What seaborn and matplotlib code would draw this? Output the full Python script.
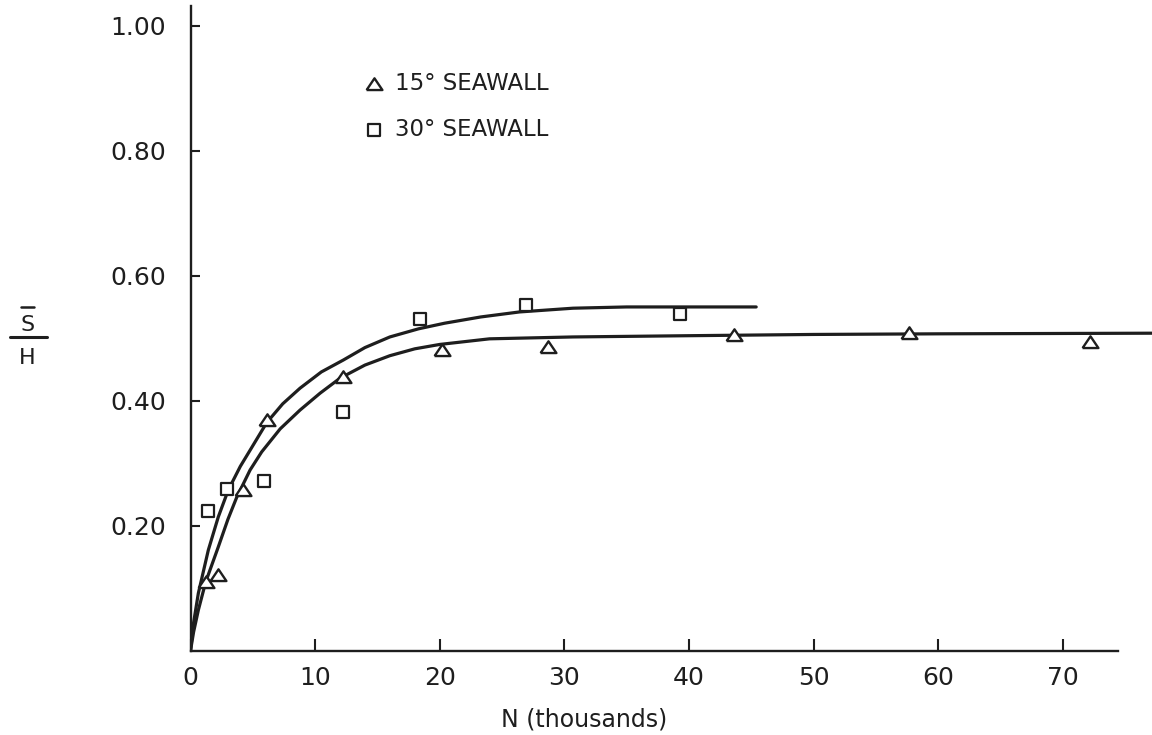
import numpy as np
import pandas as pd
import matplotlib
matplotlib.use("Agg")
import matplotlib.pyplot as plt
import seaborn as sns
from matplotlib.lines import Line2D
from matplotlib.markers import MarkerStyle

# ---------------- data ----------------
n_15 = [1.22, 2.23, 4.24, 6.12, 12.26, 20.2, 28.7, 43.6, 57.7, 72.2]
sh_15 = [0.110, 0.121, 0.257, 0.369, 0.438, 0.481, 0.486, 0.505, 0.508, 0.494]

n_30 = [1.43, 2.90, 5.92, 12.2, 18.4, 26.9, 39.3]
sh_30 = [0.224, 0.258, 0.272, 0.382, 0.530, 0.553, 0.539]

curve_15_n = [0, 0.25, 0.63, 1.22, 2.23, 3.0, 3.7, 4.78, 5.71, 7.2, 8.79, 10.4,
              12.0, 14.0, 16.0, 18.0, 20.0, 24.0, 30.7, 40.0, 50.0, 60.0, 77.2]
curve_15_sh = [0, 0.03, 0.065, 0.110, 0.166, 0.21, 0.245, 0.289, 0.318, 0.355, 0.385, 0.412,
               0.436, 0.457, 0.472, 0.483, 0.490, 0.499, 0.502, 0.504, 0.506, 0.507, 0.508]

curve_30_n = [0, 0.25, 0.63, 1.43, 2.23, 3.03, 4.0, 4.85, 6.12, 7.4, 8.79, 10.5,
              12.26, 14.0, 16.0, 18.3, 20.4, 23.3, 26.4, 30.7, 35.0, 40.0, 45.4]
curve_30_sh = [0, 0.045, 0.092, 0.161, 0.214, 0.257, 0.295, 0.323, 0.365, 0.395, 0.420, 0.446,
               0.465, 0.485, 0.502, 0.515, 0.524, 0.534, 0.542, 0.548, 0.550, 0.550, 0.550]

x_ticks = [0, 10, 20, 30, 40, 50, 60, 70]
x_tick_labels = ["0", "10", "20", "30", "40", "50", "60", "70"]
y_ticks = [0.2, 0.4, 0.6, 0.8, 1.0]
y_tick_labels = ["0.20", "0.40", "0.60", "0.80", "1.00"]
legend_labels = ["15° SEAWALL", "30° SEAWALL"]
x_label = "N (thousands)"
y_label_top = "S"
y_label_bottom = "H"

# ---------------- style ----------------
sns.set_style("ticks")
plt.rcParams["font.family"] = ["DejaVu Sans"]
ink = "#1e1e1e"

W, H = 1152, 735
fig = plt.figure(figsize=(W / 100, H / 100), dpi=100)
fig.patch.set_facecolor("white")

x0_px, y0_px, ytop_px = 190.5, 650.7, 6.0
px_per_unit_x = 12.46
px_per_unit_y = 625.0
ax = fig.add_axes([x0_px / W, (H - y0_px) / H, (W - x0_px) / W, (y0_px - ytop_px) / H])
ax.set_facecolor("white")

# curves
sns.lineplot(x=curve_30_n, y=curve_30_sh, ax=ax, color=ink, lw=2.3,
             sort=False, estimator=None, zorder=2)
sns.lineplot(x=curve_15_n, y=curve_15_sh, ax=ax, color=ink, lw=2.3,
             sort=False, estimator=None, zorder=2)

# markers
tri = MarkerStyle([(-1, -0.7), (1, -0.7), (0, 0.78), (-1, -0.7)])
sns.scatterplot(x=n_15, y=sh_15, ax=ax, marker=tri, s=130, facecolor="white",
                edgecolor=ink, linewidth=1.7, zorder=3)
h15 = ax.collections[-1]
sns.scatterplot(x=n_30, y=sh_30, ax=ax, marker="s", s=72, facecolor="white",
                edgecolor=ink, linewidth=1.6, zorder=3)
h30 = ax.collections[-1]

ax.set_xlim(0, (W - x0_px) / px_per_unit_x)
ax.set_ylim(0, (y0_px - ytop_px) / px_per_unit_y)

ax.set_xticks(x_ticks)
ax.set_xticklabels(x_tick_labels)
ax.set_yticks(y_ticks)
ax.set_yticklabels(y_tick_labels)

for s in ["top", "right"]:
    ax.spines[s].set_visible(False)
for s in ["left", "bottom"]:
    ax.spines[s].set_linewidth(1.7)
    ax.spines[s].set_color(ink)
ax.spines["bottom"].set_bounds(0, 74.4)

ax.tick_params(axis="x", direction="in", length=8.5, width=1.5, color=ink,
               labelsize=18, pad=11, labelcolor=ink)
ax.tick_params(axis="y", direction="in", length=6.5, width=1.5, color=ink,
               labelsize=18, pad=17.5, labelcolor=ink)

ax.set_xlabel(x_label, fontsize=17, color=ink, va="top")
ax.xaxis.set_label_coords((584 - x0_px) / (W - x0_px), (y0_px - 707) / (y0_px - ytop_px))
ax.set_ylabel("")

# legend
leg = ax.legend(handles=[h15, h30], labels=legend_labels, loc="upper left",
                bbox_to_anchor=(365 / W, 1 - 72 / H), bbox_transform=fig.transFigure,
                frameon=False, fontsize=16.5, handlelength=0.8, handletextpad=0.5,
                labelspacing=1.0, borderpad=0, borderaxespad=0, scatterpoints=1)
for t in leg.get_texts():
    t.set_color(ink)

# y label: S-bar over H
fig.text(27.5 / W, 1 - 331 / H, y_label_top, ha="center", va="baseline",
         fontsize=16, color=ink)
fig.text(27.0 / W, 1 - 364 / H, y_label_bottom, ha="center", va="baseline",
         fontsize=16, color=ink)
fig.add_artist(Line2D([10 / W, 47 / W], [1 - 336.7 / H] * 2, transform=fig.transFigure,
                      color=ink, lw=2.2))
fig.add_artist(Line2D([21 / W, 34 / W], [1 - 306.5 / H] * 2, transform=fig.transFigure,
                      color=ink, lw=1.8))

fig.savefig("out.png", dpi=100, facecolor="white")
